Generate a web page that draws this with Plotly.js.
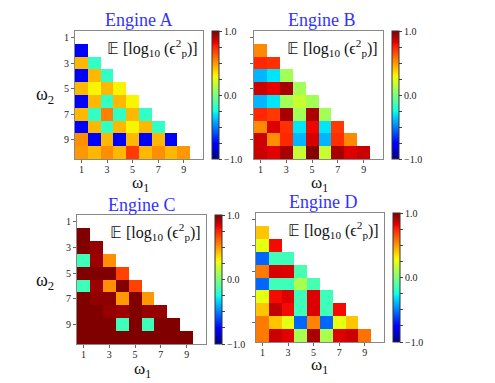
<!DOCTYPE html>
<html>
<head>
<meta charset="utf-8">
<script src="https://cdn.plot.ly/plotly-3.0.1.min.js"></script>
<style>html,body{margin:0;padding:0;background:#fff;}#chart{width:495px;height:383px;}</style>
</head>
<body>
<div id="chart"></div>
<script>
// omega values (both axes)
const omega = [1, 2, 3, 4, 5, 6, 7, 8, 9, 10];
const tickVals = [1, 3, 5, 7, 9];
const cbTickVals = [-1, -0.75, -0.5, -0.25, 0, 0.25, 0.5, 0.75, 1];
const cbTickText = ['\u22121.0', '', '', '', '0.0', '', '', '', '1.0'];
const engineNames = ['Engine A', 'Engine B', 'Engine C', 'Engine D'];

// rows for omega2 = 2..10, entries for omega1 = 1..(omega2-1)
const engineA = [
  [-0.77],
  [0.43, -0.18],
  [-0.77, 0.43, -0.18],
  [0.43, 0.30, 0.43, 0.30],
  [-0.77, 0.43, -0.18, 0.43, 0.30],
  [0.43, -0.18, 0.55, -0.18, 0.43, -0.18],
  [-0.77, 0.43, -0.18, 0.43, 0.30, 0.43, -0.18],
  [0.52, -0.77, 0.43, -0.77, 0.43, -0.77, 0.43, -0.77],
  [0.50, 0.43, 0.52, 0.43, 0.70, 0.43, 0.52, 0.43, 0.50]
];
const engineB = [
  [0.53],
  [0.74, 0.72],
  [-0.39, -0.30, 0.09],
  [0.87, 0.82, 0.93, 0.09],
  [-0.39, -0.30, 0.09, 0.18, 0.09],
  [0.74, 0.70, 0.93, 0.09, 0.92, 0.09],
  [0.53, 0.84, 0.72, -0.30, 0.81, -0.30, 0.70],
  [0.87, 0.52, 0.74, -0.39, 0.85, -0.39, 0.72, 0.53],
  [0.87, 0.83, 0.93, 0.18, 0.99, 0.18, 0.93, 0.84, 0.87]
];
const engineC = [
  [1.0],
  [1.0, 0.96],
  [-0.15, 0.95, 0.52],
  [1.0, 1.0, 1.0, 0.68],
  [-0.15, 0.95, 0.52, 1.0, 0.68],
  [1.0, 0.97, 0.98, 0.50, 1.0, 0.50],
  [1.0, 1.0, 0.96, 0.95, 1.0, 0.96, 0.96],
  [1.0, 1.0, 1.0, -0.15, 1.0, -0.15, 1.0, 1.0],
  [1.0, 1.0, 1.0, 1.0, 1.0, 1.0, 1.0, 1.0, 1.0]
];
const engineD = [
  [0.40],
  [0.26, 0.80],
  [-0.55, -0.15, -0.15],
  [0.56, 0.85, 0.84, -0.13],
  [-0.55, -0.15, -0.15, 0.11, -0.13],
  [0.26, 0.80, 0.84, -0.15, 0.84, -0.15],
  [0.40, 0.89, 0.80, -0.15, 0.84, -0.15, 0.80],
  [0.56, 0.40, 0.26, -0.55, 0.54, -0.55, 0.26, 0.40],
  [0.56, 0.87, 0.83, 0.11, 0.93, 0.11, 0.84, 0.87, 0.58]
];

// matplotlib "jet"
const jet = [
  [0, 'rgb(0,0,128)'], [0.11, 'rgb(0,0,255)'], [0.125, 'rgb(0,0,255)'],
  [0.34, 'rgb(0,219,255)'], [0.35, 'rgb(0,229,247)'], [0.375, 'rgb(21,255,226)'],
  [0.64, 'rgb(239,255,8)'], [0.65, 'rgb(247,245,0)'], [0.66, 'rgb(255,236,0)'],
  [0.89, 'rgb(255,19,0)'], [0.91, 'rgb(232,0,0)'], [1, 'rgb(128,0,0)']
];

function toMatrix(rows) {
  const z = [omega.map(() => null)];
  rows.forEach(r => {
    z.push(omega.map((_, j) => (j < r.length ? r[j] : null)));
  });
  return z;
}

const W = 495, H = 383;
// pixel boxes [x0, x1, yTop, yBottom] and colorbar left x
const panels = [
  {box: [75, 203, 31, 159], cb: 212, showY: true, title: [139, 20], w1: [140, 184], w2: [45, 96], data: engineA},
  {box: [254, 383, 31, 159], cb: 392, showY: false, title: [322, 20], w1: [319, 184], w2: null, data: engineB},
  {box: [77, 206, 215, 344], cb: 215, showY: true, title: [142, 205], w1: [142, 370], w2: [45, 281], data: engineC},
  {box: [256, 384, 213, 342], cb: 393, showY: false, title: [323, 202], w1: [319, 366], w2: null, data: engineD}
];

const serif = 'Liberation Serif, Times New Roman, serif';
const traces = [];
const layout = {
  width: W, height: H,
  margin: {l: 0, r: 0, t: 0, b: 0},
  paper_bgcolor: '#fff', plot_bgcolor: '#fff',
  showlegend: false,
  font: {family: serif, color: '#222'},
  annotations: []
};

panels.forEach((p, i) => {
  const n = i + 1;
  const xa = 'xaxis' + (n === 1 ? '' : n);
  const ya = 'yaxis' + (n === 1 ? '' : n);
  const [x0, x1, yt, yb] = p.box;
  traces.push({
    type: 'heatmap',
    x: omega, y: omega,
    z: toMatrix(p.data),
    xaxis: 'x' + (n === 1 ? '' : n),
    yaxis: 'y' + (n === 1 ? '' : n),
    colorscale: jet, zmin: -1, zmax: 1,
    hoverongaps: false,
    colorbar: {
      x: p.cb / W, xanchor: 'left', xpad: 0, ypad: 0,
      y: 1 - (yt + yb) / 2 / H, yanchor: 'middle',
      len: yb - yt, lenmode: 'pixels', thickness: 7,
      outlinewidth: 1, outlinecolor: '#333',
      tickmode: 'array', tickvals: cbTickVals, ticktext: cbTickText,
      ticks: 'outside', ticklen: 3, tickcolor: '#444',
      tickfont: {family: serif, size: 10, color: '#222'}
    }
  });
  layout[xa] = {
    domain: [x0 / W, x1 / W], anchor: 'y' + (n === 1 ? '' : n),
    range: [0.5, 10.5], tickmode: 'array', tickvals: tickVals,
    ticks: 'outside', ticklen: 3, tickcolor: '#666', ticklabelstandoff: -2,
    showline: true, mirror: true, linecolor: '#888', linewidth: 1,
    showgrid: false, zeroline: false,
    tickfont: {family: serif, size: 10, color: '#222'}
  };
  layout[ya] = {
    domain: [1 - yb / H, 1 - yt / H], anchor: 'x' + (n === 1 ? '' : n),
    range: [10.5, 0.5], tickmode: 'array', tickvals: tickVals,
    ticks: 'outside', ticklen: 3, tickcolor: '#666',
    showticklabels: p.showY,
    showline: true, mirror: true, linecolor: '#888', linewidth: 1,
    showgrid: false, zeroline: false,
    tickfont: {family: serif, size: 10, color: '#222'}
  };
  // title
  layout.annotations.push({
    xref: 'paper', yref: 'paper', x: p.title[0] / W, y: 1 - p.title[1] / H,
    xanchor: 'center', yanchor: 'middle', showarrow: false,
    text: engineNames[i], font: {family: serif, size: 18, color: '#3333ff'}
  });
  // in-plot label
  layout.annotations.push({
    xref: 'paper', yref: 'paper', x: (x1 - 3) / W, y: 1 - (yt + 17) / H,
    xanchor: 'right', yanchor: 'middle', showarrow: false,
    text: '\ud835\udd3c [log<sub>10</sub> (\u03f5<sup>2</sup><sub>p</sub>)]',
    font: {family: serif, size: 16, color: '#111'}
  });
  // omega1
  layout.annotations.push({
    xref: 'paper', yref: 'paper', x: p.w1[0] / W, y: 1 - p.w1[1] / H,
    xanchor: 'center', yanchor: 'middle', showarrow: false,
    text: '\u03c9<sub>1</sub>', font: {family: serif, size: 17, color: '#111'}
  });
  if (p.w2) {
    layout.annotations.push({
      xref: 'paper', yref: 'paper', x: p.w2[0] / W, y: 1 - p.w2[1] / H,
      xanchor: 'center', yanchor: 'middle', showarrow: false,
      text: '\u03c9<sub>2</sub>', font: {family: serif, size: 18, color: '#111'}
    });
  }
});

Plotly.newPlot('chart', traces, layout, {staticPlot: true, displayModeBar: false});
</script>
</body>
</html>
